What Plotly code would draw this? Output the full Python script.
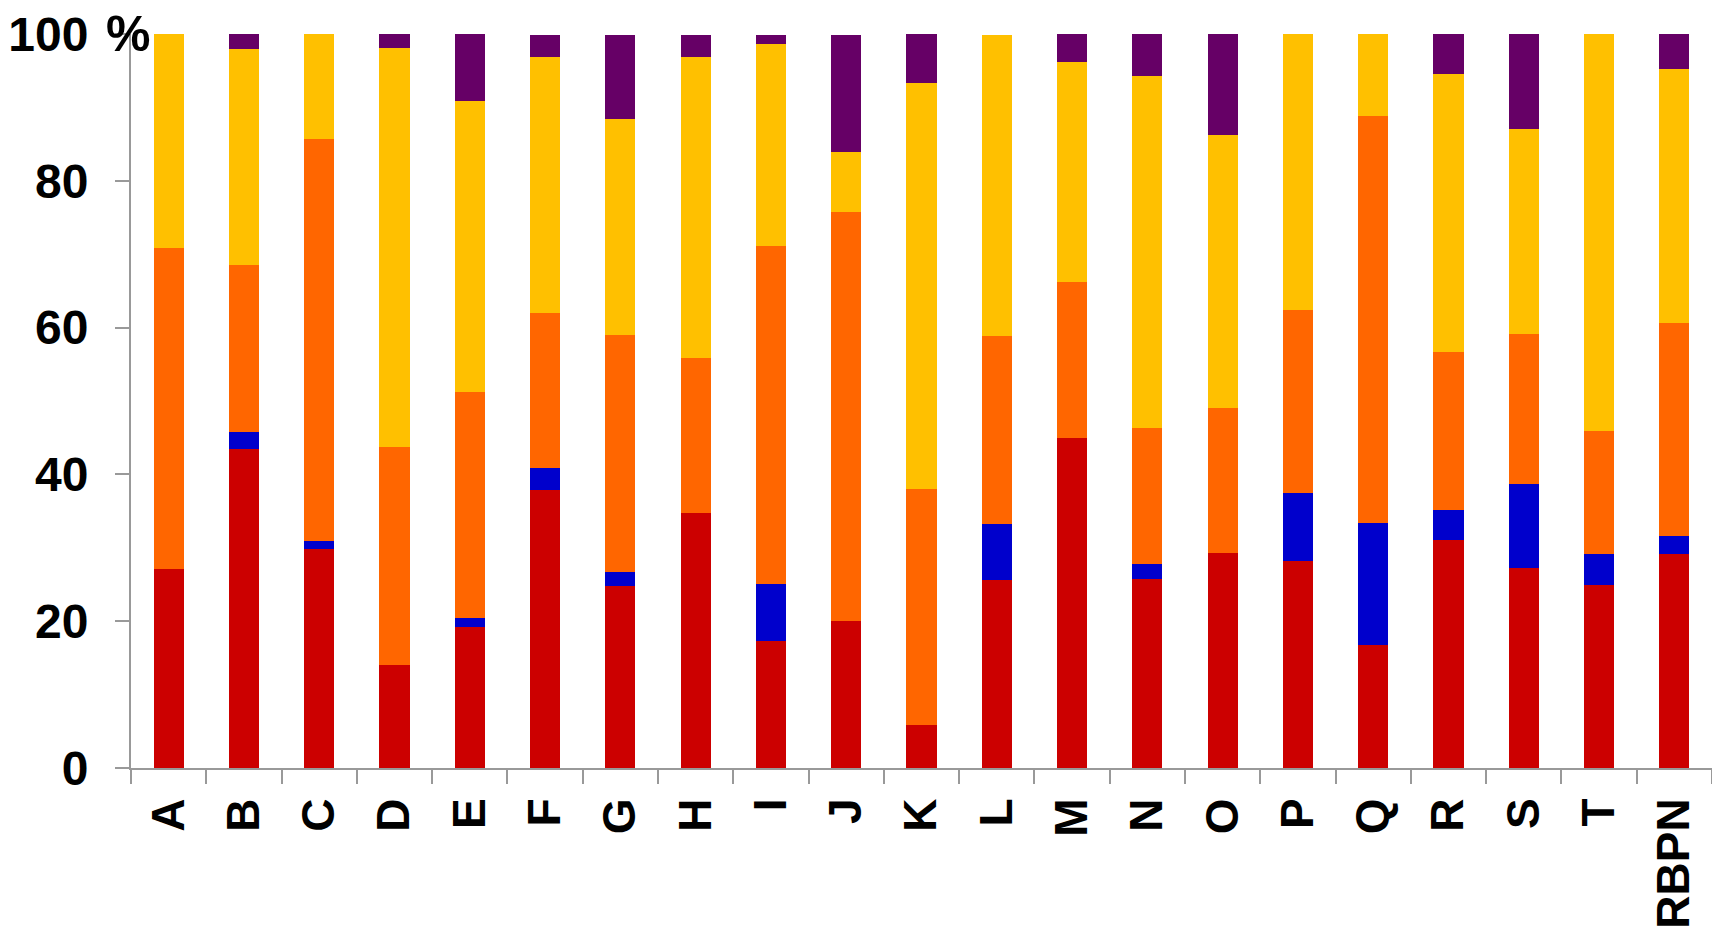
import plotly.graph_objects as go

categories = ["A", "B", "C", "D", "E", "F", "G", "H", "I", "J", "K",
              "L", "M", "N", "O", "P", "Q", "R", "S", "T", "RBPN"]

red = [27.1, 43.4, 29.8, 14.0, 19.2, 37.9, 24.8, 34.8, 17.3, 20.0, 5.8,
       25.6, 45.0, 25.8, 29.3, 28.2, 16.8, 31.1, 27.3, 25.0, 29.2]
blue = [0.0, 2.4, 1.1, 0.0, 1.2, 3.0, 1.9, 0.0, 7.8, 0.0, 0.0,
        7.7, 0.0, 2.0, 0.0, 9.3, 16.6, 4.0, 11.4, 4.2, 2.4]
orange = [43.7, 22.7, 54.8, 29.8, 30.8, 21.1, 32.3, 21.1, 46.0, 55.8, 32.2,
          25.5, 21.2, 18.5, 19.7, 24.9, 55.4, 21.6, 20.4, 16.7, 29.0]
yellow = [29.2, 29.4, 14.3, 54.3, 39.7, 34.8, 29.4, 40.9, 27.6, 8.1, 55.3,
          41.0, 30.0, 48.0, 37.2, 37.6, 11.2, 37.8, 27.9, 54.1, 34.6]
purple = [0.0, 2.1, 0.0, 1.9, 9.1, 3.0, 11.5, 3.0, 1.1, 16.0, 6.7,
          0.0, 3.8, 5.7, 13.8, 0.0, 0.0, 5.5, 13.0, 0.0, 4.8]

y_ticks = [0, 20, 40, 60, 80, 100]
unit_label = "%"

series = [
    ("Series 1", red, "#CC0000"),
    ("Series 2", blue, "#0000CC"),
    ("Series 3", orange, "#FF6600"),
    ("Series 4", yellow, "#FFC000"),
    ("Series 5", purple, "#660066"),
]

fig = go.Figure()
for name, vals, col in series:
    fig.add_trace(go.Bar(
        x=categories, y=vals, name=name,
        marker=dict(color=col, line=dict(width=0)),
    ))

font = dict(family="Liberation Sans", size=48, color="black", weight="bold")
xfont = dict(family="Liberation Sans", size=46, color="black", weight="bold")

fig.update_layout(
    barmode="stack",
    bargap=0.6,
    width=1712, height=930,
    margin=dict(l=131, r=0, t=34, b=162, pad=0),
    plot_bgcolor="white", paper_bgcolor="white",
    showlegend=False,
    font=font,
)
fig.update_xaxes(
    type="category",
    showline=True, linecolor="#999999", linewidth=2,
    ticks="outside", ticklen=14, tickwidth=2, tickcolor="#999999",
    tickson="boundaries",
    tickangle=-90,
    ticklabelstandoff=10,
    tickfont=xfont,
    showgrid=False, zeroline=False,
)
fig.update_yaxes(
    range=[0, 100],
    tickvals=y_ticks,
    ticktext=[str(v) for v in y_ticks],
    showline=True, linecolor="#999999", linewidth=2,
    ticks="outside", ticklen=14, tickwidth=2, tickcolor="#999999",
    ticklabelstandoff=17,
    tickfont=font,
    showgrid=False, zeroline=False,
)
fig.add_annotation(
    text=unit_label, xref="paper", yref="paper", x=-0.002, y=1.0,
    xanchor="center", yanchor="middle", showarrow=False,
    font=dict(family="Liberation Sans", size=50, color="black", weight="bold"),
)

fig.write_html("out.html", config={"displayModeBar": False},
               post_script="document.body.style.margin='0px';")
